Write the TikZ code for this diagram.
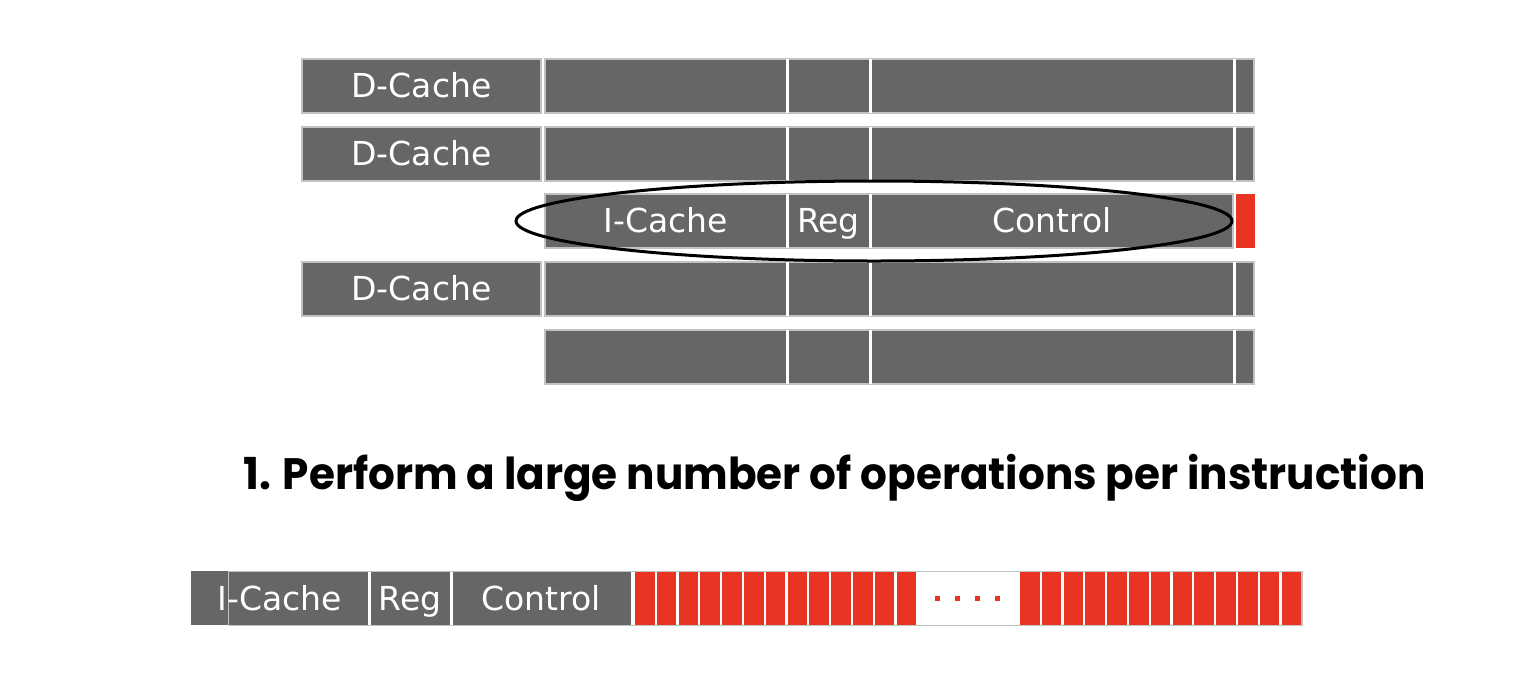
\documentclass[tikz,border=0pt]{standalone}
\usepackage{fontspec}
\setmainfont{DejaVu Sans}
\newfontfamily\titlefont{Poppins}
\usetikzlibrary{shapes.geometric}
\definecolor{gry}{HTML}{666666}
\definecolor{bord}{HTML}{C2C2C2}
\definecolor{redc}{HTML}{E93323}
\begin{document}
\begin{tikzpicture}[x=0.5pt,y=-0.5pt,
  bar/.style={fill=gry, draw=bord, line width=0.75pt},
  gapline/.style={draw=white, line width=1.5pt},
  lbl/.style={text=white, font=\fontsize{16.5}{18}\selectfont, inner sep=0pt, anchor=base},
  redbox/.style={fill=redc, draw=none},
  sel/.style={draw=black, line width=1.5pt, ellipse, minimum width=358pt, minimum height=40pt, inner sep=0pt}]
\useasboundingbox (0,0) rectangle (1528,676);
% D-Cache boxes
\foreach \yy/\n in {59/1,127/2,262/4}{
  \draw[bar] (302,\yy) rectangle (541,\yy+54);
  \node[lbl] (dc\n) at (421.5,\yy+38) {D-Cache};
}
% plain rows
\foreach \yy in {59,127,262,330}{
  \draw[bar] (545,\yy) rectangle (1254,\yy+54);
  \draw[gapline] (787.5,\yy) -- (787.5,\yy+54);
  \draw[gapline] (870.5,\yy) -- (870.5,\yy+54);
  \draw[gapline] (1234.5,\yy) -- (1234.5,\yy+54);
}
% highlighted row
\draw[bar] (545,194) rectangle (1233,248);
\draw[gapline] (787.5,194) -- (787.5,248);
\draw[gapline] (870.5,194) -- (870.5,248);
\fill[redbox] (1236,194) rectangle (1255,248);
\node[lbl] (ic) at (666,232) {I-Cache};
\node[lbl] (rg) at (828.5,232) {Reg};
\node[lbl] (ct) at (1052,232) {Control};
\node[sel] (ring) at (874,221) {};
% title
\node[anchor=base west, inner sep=0pt] (title) at (243,489)
  {\resizebox{591pt}{\height}{\titlefont\bfseries\fontsize{22}{26}\selectfont 1. Perform a large number of operations per instruction}};
% bottom bar
\fill[gry] (191,571) rectangle (229,624.5);
\draw[fill=white, draw=bord, line width=0.75pt] (229,571.7) rectangle (1302,625.7);
\fill[gry] (229,572) rectangle (631,625.3);
\draw[gapline] (369.5,572) -- (369.5,625.3);
\draw[gapline] (451.5,572) -- (451.5,625.3);
\foreach \i in {0,...,12}{
  \fill[redbox] (635+\i*21.8,572) rectangle ++(19.5,53.3);
  \fill[redbox] (1020+\i*21.8,572) rectangle ++(19.5,53.3);
}
\foreach \xx in {937,957,977,997}{
  \fill[redbox] (\xx-2.5,595.5) rectangle ++(5,5);
}
\node[lbl] (bic) at (280,610) {I-Cache};
\node[lbl] (brg) at (410,610) {Reg};
\node[lbl] (bct) at (541,610) {Control};
\end{tikzpicture}
\end{document}
